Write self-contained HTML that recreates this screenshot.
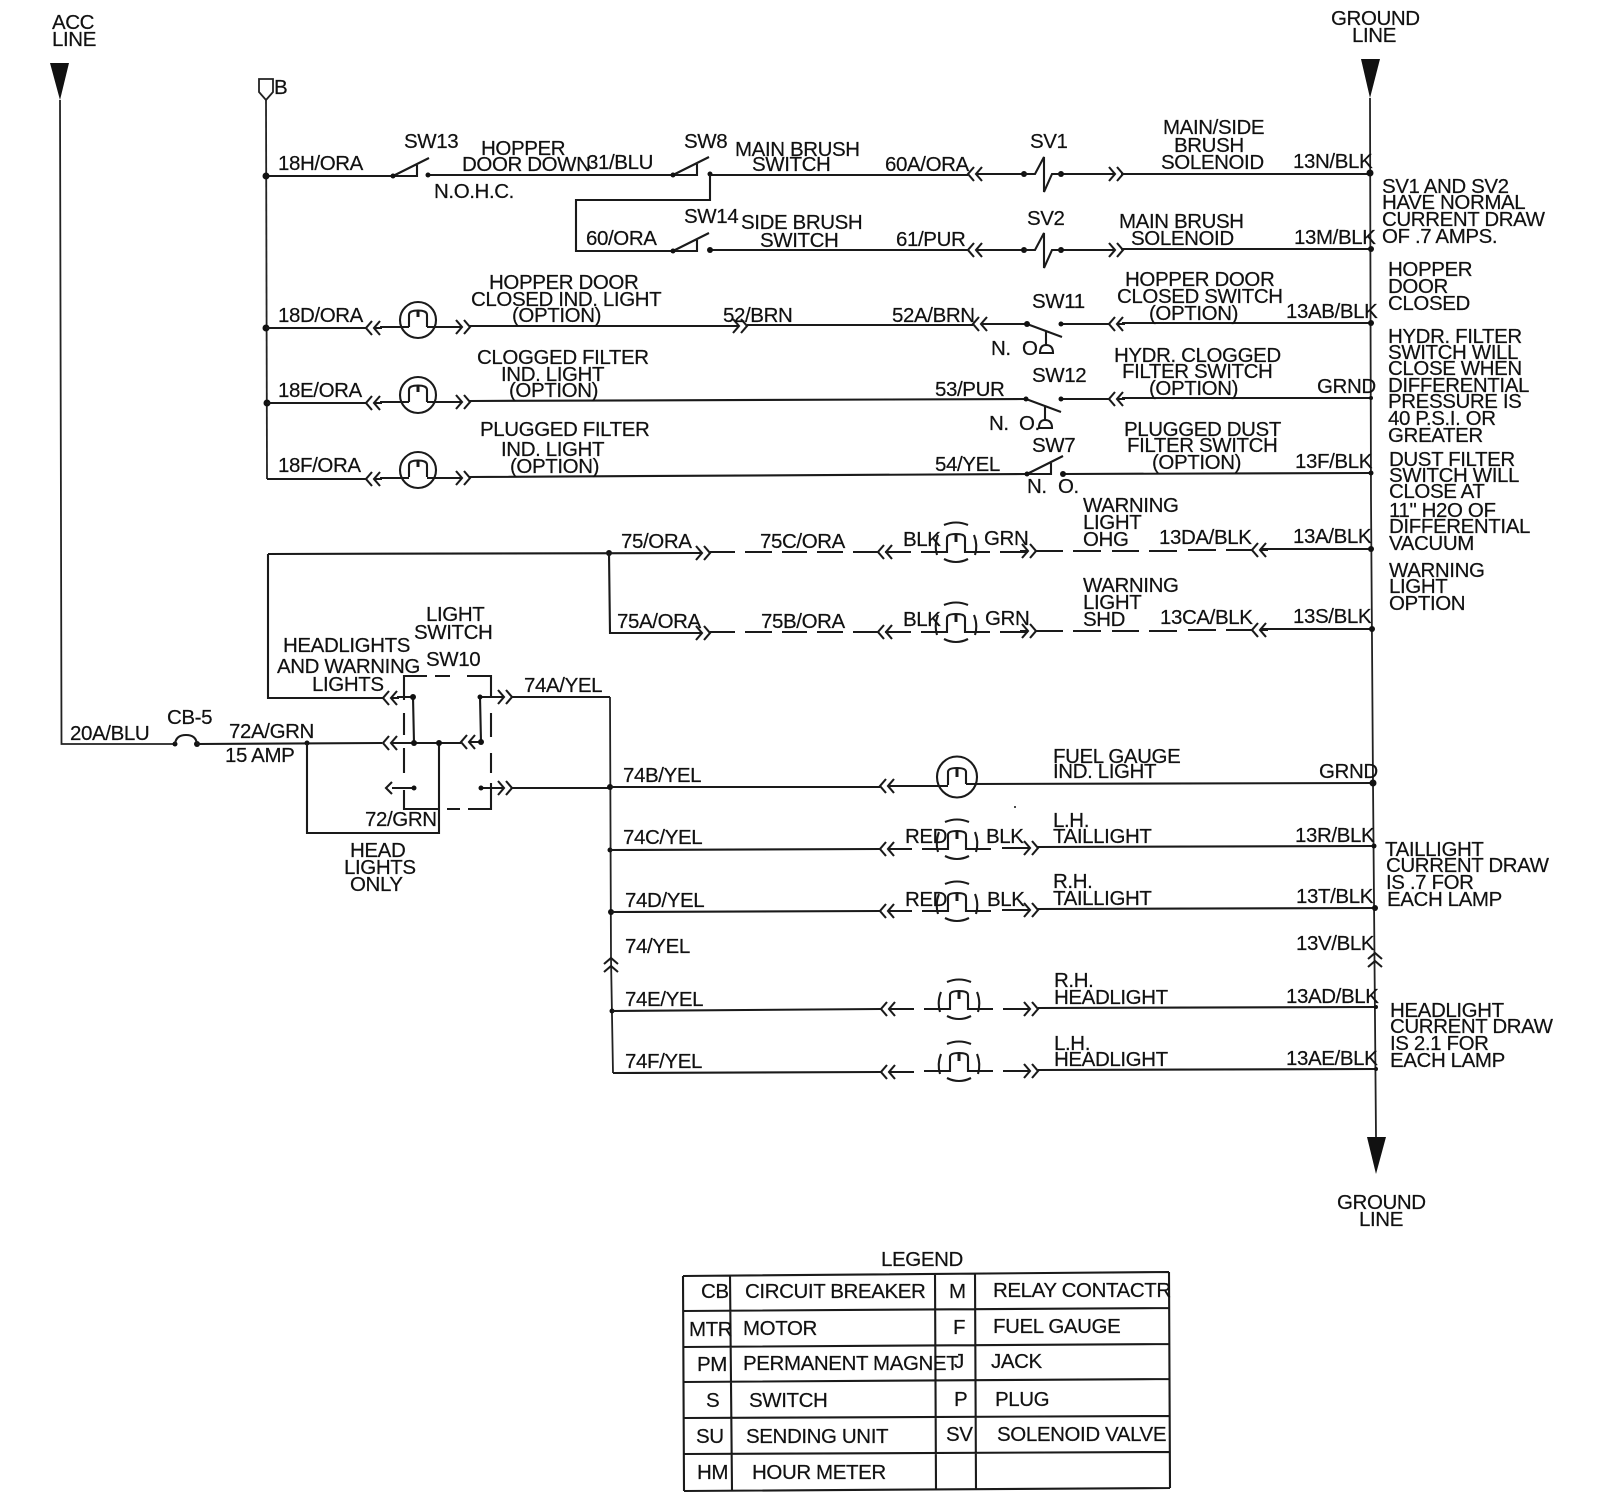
<!DOCTYPE html>
<html><head><meta charset="utf-8"><style>
html,body{margin:0;padding:0;background:#fff}
svg{display:block}
text{font-family:"Liberation Sans",sans-serif;font-size:20.5px;fill:#111;letter-spacing:-.4px;stroke:#111;stroke-width:.2}
.w{fill:none;stroke:#1a1a1a;stroke-width:2.1}
.t{fill:none;stroke:#222;stroke-width:1.8}
.d{fill:#111}
</style></head><body>
<svg width="1600" height="1499" viewBox="0 0 1600 1499" xmlns="http://www.w3.org/2000/svg">
<defs>
<path id="al" class="w" d="M6,-7 L0,0 L6,7 M14,-7 L8,0 L14,7 M8,0 H16"/>
<path id="ar" class="w" d="M8,-7 L14,0 L8,7 M0,-7 L6,0 L0,7 M-2,0 H6"/>
<path id="au" class="w" d="M-7,6 L0,0 L7,6 M-7,14 L0,8 L7,14"/>
<g id="dl"><path class="w" d="M-12,-18 Q0,-23 12,-18 M-12,16 Q0,22 12,16 M-18,-8 Q-22,2 -19,12 M18,-8 Q22,2 19,12 M-35,9 H-9 V-5 Q-9,-9 0,-9 Q9,-9 9,-5 V9 H34"/><path class="w" style="stroke-width:3" d="M0,-9 V-1"/></g>
<g id="sl"><circle class="w" r="18"/><path class="w" d="M-9,7 V-5 Q-9,-9.500 0,-9.500 Q9,-9.500 9,-5 V7"/><path class="w" style="stroke-width:3" d="M0,-10 V-3"/></g>
<g id="sv"><circle class="d" cx="-20" r="3"/><circle class="d" cx="17" r="3"/><path class="w" d="M-20,0 H-9 L0,-17 V18 L8,0 H17"/></g>
<path id="no" class="w" d="M0,0 H24 V-11 M0,0 L36,-18"/>
<path id="nc" class="w" d="M0,0 L35,13 M19,7 V21 M13,29 Q13,21 19,21 Q26,21 26,29 Z"/>
</defs>

<!-- rails -->
<polygon class="d" points="50,63 69,63 60,100"/>
<polygon class="d" points="1361,59 1380,59 1370,98"/>
<polygon class="d" points="1367,1137 1386,1137 1376,1174"/>
<path class="t" d="M60,100 L61.5,744 H175"/>
<path class="t" d="M1370,98 L1371,500 L1373,783 L1376,1137"/>
<path class="t" d="M259,79 H273 V92 L266,100 L259,92 Z"/>
<path class="t" d="M266,100 L267,479"/>

<!-- row 1 -->
<path class="w" d="M266,176 H393"/><use href="#no" x="393" y="176"/>
<path class="w" d="M428,175 H673"/><use href="#no" x="673" y="175"/>
<path class="w" d="M710,175 H968 M981,174 H1024 M1061,174 H1115 M1121,174 H1370"/>
<circle class="d" cx="266" cy="176" r="3.5"/><circle class="d" cx="393" cy="176" r="2.5"/><circle class="d" cx="428" cy="175" r="2.5"/><circle class="d" cx="673" cy="175" r="2.5"/><circle class="d" cx="710" cy="174" r="2.5"/>
<use href="#al" x="968" y="174"/><use href="#ar" x="1109" y="174"/><use href="#sv" x="1044" y="174"/>
<circle class="d" cx="1370" cy="173" r="3.5"/>

<!-- row 2 -->
<path class="w" d="M710,175 V200 H576 V251 H673"/><use href="#no" x="673" y="251"/>
<path class="w" d="M710,250 H968 M981,250 H1024 M1061,250 H1115 M1121,249 H1371"/>
<circle class="d" cx="673" cy="251" r="2.5"/><circle class="d" cx="710" cy="250" r="3"/>
<use href="#al" x="968" y="250"/><use href="#ar" x="1109" y="250"/><use href="#sv" x="1044" y="250"/>
<circle class="d" cx="1371" cy="249" r="3"/>

<!-- row 3 -->
<circle class="d" cx="266" cy="328" r="3.5"/>
<path class="w" d="M266,328 H366 M380,327 H409 M427,327 H456 M469,326 H733 M747,325 H973 M988,324 H1027 M1061,324 H1109 M1122,323 H1371"/>
<use href="#al" x="366" y="328"/><use href="#sl" x="418" y="320"/><use href="#ar" x="456" y="327"/><use href="#ar" x="733" y="326"/><use href="#al" x="973" y="324"/><use href="#al" x="1109" y="324"/>
<use href="#nc" x="1027" y="324"/><circle class="d" cx="1027" cy="324" r="3"/><circle class="d" cx="1061" cy="324" r="2.5"/><circle class="d" cx="1371" cy="323" r="3"/>

<!-- row 4 -->
<circle class="d" cx="267" cy="403" r="3.5"/>
<path class="w" d="M267,403 H366 M380,402 H409 M427,402 H456 M469,401 L1026,399 M1061,399 H1109 M1122,398 H1371"/>
<use href="#al" x="366" y="403"/><use href="#sl" x="418" y="395"/><use href="#ar" x="456" y="402"/><use href="#al" x="1109" y="399"/>
<use href="#nc" x="1026" y="399"/><circle class="d" cx="1026" cy="399" r="2.5"/><circle class="d" cx="1061" cy="399" r="2.5"/><circle class="d" cx="1371" cy="398" r="2"/>

<!-- row 5 -->
<path class="w" d="M267,479 H366 M380,478 H409 M427,478 H456 M469,477 L1027,474 M1063,474 L1371,473"/>
<use href="#al" x="366" y="479"/><use href="#sl" x="418" y="470"/><use href="#ar" x="456" y="478"/>
<use href="#no" x="1027" y="474"/><circle class="d" cx="1027" cy="474" r="2.5"/><circle class="d" cx="1063" cy="474" r="3"/><circle class="d" cx="1371" cy="473" r="2.5"/>

<!-- warning rows -->
<circle class="d" cx="609" cy="553" r="3"/>
<path class="w" d="M268,554 L696,553 M268,554 V698 H383 M609,553 L610,633 H696"/>
<path class="w" d="M710,552 H735 M745,552 H772 M782,552 H807 M817,552 H843 M853,552 H878 M885,552 H911 M1000,552 H1028 M1036,551 H1063 M1073,551 H1101 M1112,551 H1139 M1149,551 H1177 M1188,550 H1216 M1226,550 H1253 M1260,549 H1371"/>
<use href="#ar" x="696" y="553"/><use href="#al" x="878" y="552"/><use href="#dl" x="956" y="543"/><use href="#ar" x="1022" y="551"/><use href="#al" x="1252" y="550"/>
<circle class="d" cx="1371" cy="549" r="3"/>
<path class="w" d="M710,632 H735 M745,632 H772 M782,632 H807 M817,632 H843 M853,632 H878 M885,632 H911 M1000,632 H1028 M1035,631 H1063 M1073,631 H1101 M1112,631 H1139 M1149,631 H1177 M1188,630 H1216 M1226,630 H1253 M1260,629 H1372"/>
<use href="#ar" x="696" y="633"/><use href="#al" x="878" y="632"/><use href="#dl" x="956" y="623"/><use href="#ar" x="1022" y="631"/><use href="#al" x="1252" y="630"/>
<circle class="d" cx="1372" cy="629" r="3"/>

<!-- fuse and main feed -->
<circle class="d" cx="175" cy="744" r="2.5"/><circle class="d" cx="197" cy="744" r="3"/>
<path class="w" d="M175,744 Q176,735 186,735 Q196,735 197,744 M197,744 L382,743 M397,743 H461"/>
<circle class="d" cx="307" cy="743" r="2.5"/>
<path class="w" d="M307,743 V833 H439 V743"/>

<!-- light switch -->
<path class="w" d="M404,700 V676 H427 M435,676 H450 M467,676 H491 V697 M491,713 V737 M491,753 V773 M491,783 V809 H468 M460,809 H447 M438,809 H404 V790 M404,773 V748 M404,735 V713"/>
<use href="#al" x="383" y="698"/><use href="#al" x="383" y="743"/><use href="#al" x="461" y="742"/><use href="#ar" x="498" y="697"/><use href="#ar" x="498" y="788"/>
<path class="w" d="M397,697 H413 L414,743 M477,742 H481 L480,697 H498 M392,788 H414 M481,788 H498 M392,782 L386,788 L392,794"/>
<circle class="d" cx="413" cy="697" r="3"/><circle class="d" cx="414" cy="743" r="3"/><circle class="d" cx="439" cy="743" r="3"/><circle class="d" cx="481" cy="742" r="3"/><circle class="d" cx="480" cy="697" r="2.5"/><circle class="d" cx="414" cy="788" r="2.5"/><circle class="d" cx="481" cy="788" r="2.5"/>
<path class="w" d="M512,697 H610 M512,788 H610"/>
<path class="t" d="M610,697 L611,958 L613,1073"/><use href="#au" x="611" y="958"/>
<circle class="d" cx="610" cy="787" r="3"/><circle class="d" cx="610" cy="850" r="2.5"/><circle class="d" cx="611" cy="912" r="3"/><circle class="d" cx="612" cy="1011" r="2.5"/>

<!-- 74B -->
<path class="w" d="M610,787 H880 M888,786 H948 M966,784 L1373,783"/>
<use href="#al" x="880" y="786"/>
<ellipse class="w" cx="957" cy="777" rx="20" ry="20.5"/>
<path class="w" d="M948,785 V772 Q948,768 957,768 Q966,768 966,772 V784"/><path class="w" style="stroke-width:3" d="M957,768 V777"/>
<circle class="d" cx="1373" cy="783" r="3.5"/>
<circle class="d" cx="1015" cy="807" r="1"/>

<!-- 74C -->
<path class="w" d="M610,850 L880,849 M888,849 H912 M1002,848 H1030 M1037,847 L1374,846"/>
<use href="#al" x="880" y="849"/><use href="#dl" x="957" y="840"/><use href="#ar" x="1024" y="848"/>
<circle class="d" cx="1374" cy="846" r="2.5"/>

<!-- 74D -->
<path class="w" d="M611,912 L880,911 M888,911 H912 M1002,910 H1030 M1037,909 L1375,908"/>
<use href="#al" x="880" y="911"/><use href="#dl" x="957" y="902"/><use href="#ar" x="1024" y="910"/>
<circle class="d" cx="1375" cy="908" r="3"/>
<use href="#au" x="1375" y="953"/>

<!-- 74E -->
<path class="w" d="M612,1011 L881,1009 M889,1009 H914 M1003,1009 H1030 M1038,1008 L1376,1007"/>
<use href="#al" x="881" y="1009"/><use href="#dl" x="959" y="1000"/><use href="#ar" x="1024" y="1009"/>
<circle class="d" cx="1376" cy="1007" r="2"/>

<!-- 74F -->
<path class="w" d="M613,1073 L881,1072 M889,1072 H914 M1003,1071 H1030 M1038,1070 L1376,1069"/>
<use href="#al" x="881" y="1072"/><use href="#dl" x="959" y="1062"/><use href="#ar" x="1024" y="1071"/>
<circle class="d" cx="1376" cy="1069" r="2"/>

<!-- legend grid -->
<path class="w" d="M683,1276 L1169,1272 M683,1311 L1169,1308 M683,1347 L1169,1344 M683,1382 L1169,1379 M684,1418 L1170,1416 M684,1454 L1170,1452 M684,1491 L1170,1488 M683,1276 L684,1491 M730,1275 L732,1491 M935,1274 L936,1490 M975,1273 L976,1490 M1169,1272 L1170,1488"/>

<!-- text -->
<text x="52" y="29">ACC</text><text x="52" y="46">LINE</text>
<text x="1331" y="25">GROUND</text><text x="1352" y="42">LINE</text>
<text x="274" y="94">B</text>
<text x="278" y="170">18H/ORA</text><text x="404" y="148">SW13</text><text x="481" y="155">HOPPER</text><text x="462" y="171">DOOR DOWN</text><text x="587" y="169">31/BLU</text><text x="684" y="148">SW8</text><text x="735" y="156">MAIN BRUSH</text><text x="752" y="171">SWITCH</text><text x="434" y="198">N.O.H.C.</text>
<text x="885" y="171">60A/ORA</text><text x="1030" y="148">SV1</text><text x="1163" y="134">MAIN/SIDE</text><text x="1174" y="152">BRUSH</text><text x="1161" y="169">SOLENOID</text><text x="1293" y="168">13N/BLK</text>
<text x="586" y="245">60/ORA</text><text x="684" y="223">SW14</text><text x="741" y="229">SIDE BRUSH</text><text x="760" y="247">SWITCH</text><text x="896" y="246">61/PUR</text><text x="1027" y="225">SV2</text><text x="1119" y="228">MAIN BRUSH</text><text x="1131" y="245">SOLENOID</text><text x="1294" y="244">13M/BLK</text>
<text x="1382" y="193">SV1 AND SV2</text><text x="1382" y="209">HAVE NORMAL</text><text x="1382" y="226">CURRENT DRAW</text><text x="1382" y="243">OF .7 AMPS.</text>
<text x="1388" y="276">HOPPER</text><text x="1388" y="293">DOOR</text><text x="1388" y="310">CLOSED</text>
<text x="1388" y="343">HYDR. FILTER</text><text x="1388" y="359">SWITCH WILL</text><text x="1388" y="375">CLOSE WHEN</text><text x="1388" y="392">DIFFERENTIAL</text><text x="1388" y="408">PRESSURE IS</text><text x="1388" y="425">40 P.S.I. OR</text><text x="1388" y="442">GREATER</text>
<text x="1389" y="466">DUST FILTER</text><text x="1389" y="482">SWITCH WILL</text><text x="1389" y="498">CLOSE AT</text><text x="1389" y="517">11" H2O OF</text><text x="1389" y="533">DIFFERENTIAL</text><text x="1389" y="550">VACUUM</text>
<text x="1389" y="577">WARNING</text><text x="1389" y="593">LIGHT</text><text x="1389" y="610">OPTION</text>

<text x="278" y="322">18D/ORA</text><text x="489" y="289">HOPPER DOOR</text><text x="471" y="306">CLOSED IND. LIGHT</text><text x="512" y="322">(OPTION)</text><text x="723" y="322">52/BRN</text><text x="892" y="322">52A/BRN</text><text x="1032" y="308">SW11</text><text x="991" y="355">N.</text><text x="1022" y="355">O</text><text x="1125" y="286">HOPPER DOOR</text><text x="1117" y="303">CLOSED SWITCH</text><text x="1149" y="320">(OPTION)</text><text x="1286" y="318">13AB/BLK</text>
<text x="278" y="397">18E/ORA</text><text x="477" y="364">CLOGGED FILTER</text><text x="501" y="381">IND. LIGHT</text><text x="509" y="397">(OPTION)</text><text x="935" y="396">53/PUR</text><text x="1032" y="382">SW12</text><text x="989" y="430">N.</text><text x="1019" y="430">O.</text><text x="1114" y="362">HYDR. CLOGGED</text><text x="1122" y="378">FILTER SWITCH</text><text x="1149" y="395">(OPTION)</text><text x="1317" y="393">GRND</text>
<text x="278" y="472">18F/ORA</text><text x="480" y="436">PLUGGED FILTER</text><text x="501" y="456">IND. LIGHT</text><text x="510" y="473">(OPTION)</text><text x="935" y="471">54/YEL</text><text x="1032" y="452">SW7</text><text x="1027" y="493">N.</text><text x="1058" y="493">O.</text><text x="1124" y="436">PLUGGED DUST</text><text x="1127" y="452">FILTER SWITCH</text><text x="1152" y="469">(OPTION)</text><text x="1295" y="468">13F/BLK</text>

<text x="621" y="548">75/ORA</text><text x="760" y="548">75C/ORA</text><text x="903" y="546">BLK</text><text x="984" y="545">GRN</text><text x="1083" y="512">WARNING</text><text x="1083" y="529">LIGHT</text><text x="1083" y="546">OHG</text><text x="1159" y="544">13DA/BLK</text><text x="1293" y="543">13A/BLK</text>
<text x="617" y="628">75A/ORA</text><text x="761" y="628">75B/ORA</text><text x="903" y="626">BLK</text><text x="985" y="625">GRN</text><text x="1083" y="592">WARNING</text><text x="1083" y="609">LIGHT</text><text x="1083" y="626">SHD</text><text x="1160" y="624">13CA/BLK</text><text x="1293" y="623">13S/BLK</text>

<text x="70" y="740">20A/BLU</text><text x="167" y="724">CB-5</text><text x="229" y="738">72A/GRN</text><text x="225" y="762">15 AMP</text>
<text x="283" y="652">HEADLIGHTS</text><text x="277" y="673">AND WARNING</text><text x="312" y="691">LIGHTS</text><text x="426" y="621">LIGHT</text><text x="414" y="639">SWITCH</text><text x="426" y="666">SW10</text><text x="524" y="692">74A/YEL</text><text x="365" y="826">72/GRN</text><text x="350" y="857">HEAD</text><text x="344" y="874">LIGHTS</text><text x="350" y="891">ONLY</text>

<text x="623" y="782">74B/YEL</text><text x="1053" y="763">FUEL GAUGE</text><text x="1053" y="778">IND. LIGHT</text><text x="1319" y="778">GRND</text>
<text x="623" y="844">74C/YEL</text><text x="905" y="843">RED</text><text x="986" y="843">BLK</text><text x="1053" y="827">L.H.</text><text x="1053" y="843">TAILLIGHT</text><text x="1295" y="842">13R/BLK</text>
<text x="625" y="907">74D/YEL</text><text x="905" y="906">RED</text><text x="987" y="906">BLK</text><text x="1053" y="888">R.H.</text><text x="1053" y="905">TAILLIGHT</text><text x="1296" y="903">13T/BLK</text>
<text x="625" y="953">74/YEL</text><text x="1296" y="950">13V/BLK</text>
<text x="1385" y="856">TAILLIGHT</text><text x="1386" y="872">CURRENT DRAW</text><text x="1386" y="889">IS .7 FOR</text><text x="1387" y="906">EACH LAMP</text>
<text x="625" y="1006">74E/YEL</text><text x="1054" y="987">R.H.</text><text x="1054" y="1004">HEADLIGHT</text><text x="1286" y="1003">13AD/BLK</text>
<text x="625" y="1068">74F/YEL</text><text x="1054" y="1050">L.H.</text><text x="1054" y="1066">HEADLIGHT</text><text x="1286" y="1065">13AE/BLK</text>
<text x="1390" y="1017">HEADLIGHT</text><text x="1390" y="1033">CURRENT DRAW</text><text x="1390" y="1050">IS 2.1 FOR</text><text x="1390" y="1067">EACH LAMP</text>
<text x="1337" y="1209">GROUND</text><text x="1359" y="1226">LINE</text>

<text x="881" y="1266">LEGEND</text>
<text x="701" y="1298">CB</text><text x="745" y="1298">CIRCUIT BREAKER</text><text x="949" y="1298">M</text><text x="993" y="1297">RELAY CONTACTR</text>
<text x="689" y="1336">MTR</text><text x="743" y="1335">MOTOR</text><text x="953" y="1334">F</text><text x="993" y="1333">FUEL GAUGE</text>
<text x="697" y="1371">PM</text><text x="743" y="1370">PERMANENT MAGNET</text><text x="954" y="1368">J</text><text x="991" y="1368">JACK</text>
<text x="706" y="1407">S</text><text x="749" y="1407">SWITCH</text><text x="954" y="1406">P</text><text x="995" y="1406">PLUG</text>
<text x="696" y="1443">SU</text><text x="746" y="1443">SENDING UNIT</text><text x="946" y="1441">SV</text><text x="997" y="1441">SOLENOID VALVE</text>
<text x="697" y="1479">HM</text><text x="752" y="1479">HOUR METER</text>
</svg>
</body></html>
